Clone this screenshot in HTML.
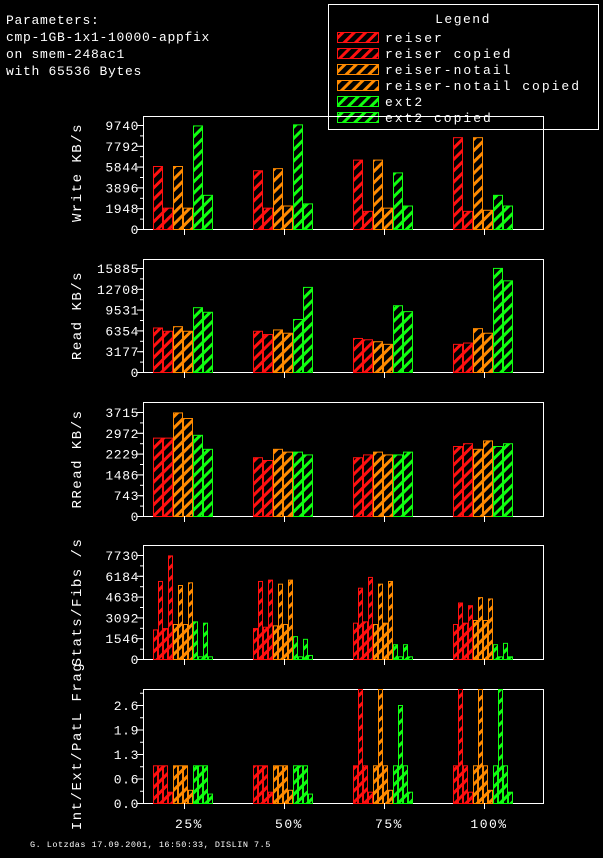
<!DOCTYPE html>
<html><head><meta charset="utf-8"><style>
html,body{margin:0;padding:0;background:#000;}
svg text{font-family:"Liberation Mono",monospace;fill:#fff;}
</style></head><body>
<svg id="s" width="603" height="853" xmlns="http://www.w3.org/2000/svg">
<defs>
<pattern id="hr" width="8" height="8" patternUnits="userSpaceOnUse" patternTransform="rotate(45)"><rect width="8" height="8" fill="#000"/><rect width="3" height="8" fill="#ff1010"/></pattern>
<pattern id="ho" width="8" height="8" patternUnits="userSpaceOnUse" patternTransform="rotate(45)"><rect width="8" height="8" fill="#000"/><rect width="3" height="8" fill="#ff8a00"/></pattern>
<pattern id="hg" width="8" height="8" patternUnits="userSpaceOnUse" patternTransform="rotate(45)"><rect width="8" height="8" fill="#000"/><rect width="3" height="8" fill="#10ff10"/></pattern>
</defs>
<g font-size="13" letter-spacing="0.7">
<text x="6" y="24">Parameters:</text>
<text x="6" y="41">cmp-1GB-1x1-10000-appfix</text>
<text x="6" y="58">on smem-248ac1</text>
<text x="6" y="75">with 65536 Bytes</text>
</g>
<rect x="328.5" y="4.5" width="270" height="125" fill="none" stroke="#fff"/>
<text x="463" y="23" font-size="13" letter-spacing="1.5" text-anchor="middle">Legend</text>
<g id="leg"></g>
<g id="plots"></g>
<text x="30" y="847" font-size="8.5" letter-spacing="0.5">G. Lotzdas 17.09.2001, 16:50:33, DISLIN 7.5</text>
</svg>
<script>
var NS="http://www.w3.org/2000/svg";
function el(p,t,a,txt){var e=document.createElementNS(NS,t);for(var k in a)e.setAttribute(k,a[k]);if(txt!==undefined)e.textContent=txt;p.appendChild(e);return e;}
var cols={r:["#ff1010","url(#hr)"],o:["#ff8a00","url(#ho)"],g:["#10ff10","url(#hg)"]};
var leg=document.getElementById("leg");
var ln=[["r","reiser"],["r","reiser copied"],["o","reiser-notail"],["o","reiser-notail copied"],["g","ext2"],["g","ext2 copied"]];
ln.forEach(function(l,i){var y=32+i*16;el(leg,"rect",{x:337.5,y:y+.5,width:41,height:10,fill:cols[l[0]][1],stroke:cols[l[0]][0]});el(leg,"text",{x:385,y:y+10,"font-size":13,"letter-spacing":2},l[1]);});
var P=document.getElementById("plots");
var ticks=[184,284,384,484];
var panels=[
{top:116,bot:229,lab:"Write KB/s",ticks:["0","1948","3896","5844","7792","9740"],max:9740,tp:125,
 d:[[5900,2000,5900,2000,9700,3200],[5500,2000,5700,2200,9800,2400],[6500,1700,6500,2000,5300,2200],[8600,1700,8600,1800,3200,2200]]},
{top:259,bot:372,lab:"Read KB/s",ticks:["0","3177","6354","9531","12708","15885"],max:15885,tp:268,
 d:[[6800,6300,7000,6300,9900,9200],[6300,5800,6500,6000,8100,13000],[5200,5000,4700,4300,10200,9300],[4300,4500,6700,6000,15900,14000]]},
{top:402,bot:516,lab:"RRead KB/s",ticks:["0","743","1486","2229","2972","3715"],max:3715,tp:412,
 d:[[2800,2800,3700,3500,2900,2400],[2100,2000,2400,2300,2300,2200],[2100,2200,2300,2200,2200,2300],[2500,2600,2400,2700,2500,2600]]},
{top:545,bot:659,lab:"Stats/Fibs /s",ticks:["0","1546","3092","4638","6184","7730"],max:7730,tp:555,n:12,
 d:[[2200,5800,2300,7700,2600,5500,2600,5700,2800,200,2700,200],[2300,5800,2400,5900,2500,5600,2600,5900,1700,200,1500,300],[2700,5300,2800,6100,2600,5600,2700,5800,1100,200,1100,200],[2600,4200,2700,4000,2900,4600,2900,4500,1100,200,1200,200]]},
{top:689,bot:803,lab:"Int/Ext/PatL Frag",ticks:["0.0","0.6","1.3","1.9","2.6"],max:2.6,tp:705,n:12,
 d:[[1,1,1,.3,1,1,1,.35,1,1,1,.25],[1,1,1,.3,1,1,1,.35,1,1,1,.25],[1,3.1,1,.3,1,3.1,1,.35,1,2.6,1,.3],[1,3.1,1,.3,1,3.1,1,.35,1,3.1,1,.3]]}
];
panels.forEach(function(p){
 el(P,"rect",{x:143.5,y:p.top+.5,width:400,height:p.bot-p.top,fill:"none",stroke:"#fff"});
 var sc=(p.bot-p.tp)/p.max, nt=p.ticks.length;
 p.ticks.forEach(function(t,i){var y=p.bot-i*(p.bot-p.tp)/(nt-1);el(P,"line",{x1:137,x2:143,y1:y+.5,y2:y+.5,stroke:"#fff"});el(P,"text",{x:139,y:y+5,"font-size":13,"letter-spacing":0.6,"text-anchor":"end"},t);});
 for(var y=p.bot;y>p.top;y-=(p.bot-p.tp)/(nt-1)/2)el(P,"line",{x1:140,x2:143,y1:y+.5,y2:y+.5,stroke:"#fff"});
 var cy=(p.top+p.bot)/2;
 el(P,"text",{x:0,y:0,"font-size":14,"letter-spacing":1.5,"text-anchor":"middle",transform:"translate(81,"+cy+") rotate(-90)"},p.lab);
 var n=p.n||6,w=n==6?10:5;
 p.d.forEach(function(g,gi){var x0=ticks[gi]-31;
  g.forEach(function(v,i){var c=["r","o","g"][Math.floor(i/(n/3))];var h=Math.min(v*sc,p.bot-p.top);
   el(P,"rect",{x:x0+i*w+.5,y:p.bot-h+.5,width:w-1,height:h,fill:cols[c][1],stroke:cols[c][0]});});
 });
 ticks.forEach(function(t){el(P,"line",{x1:t+.5,x2:t+.5,y1:p.bot,y2:p.bot+6,stroke:"#fff"});});
});
["25%","50%","75%","100%"].forEach(function(t,i){el(P,"text",{x:ticks[i]+5,y:828,"font-size":13,"letter-spacing":1.5,"text-anchor":"middle"},t);});
</script>
</body></html>
